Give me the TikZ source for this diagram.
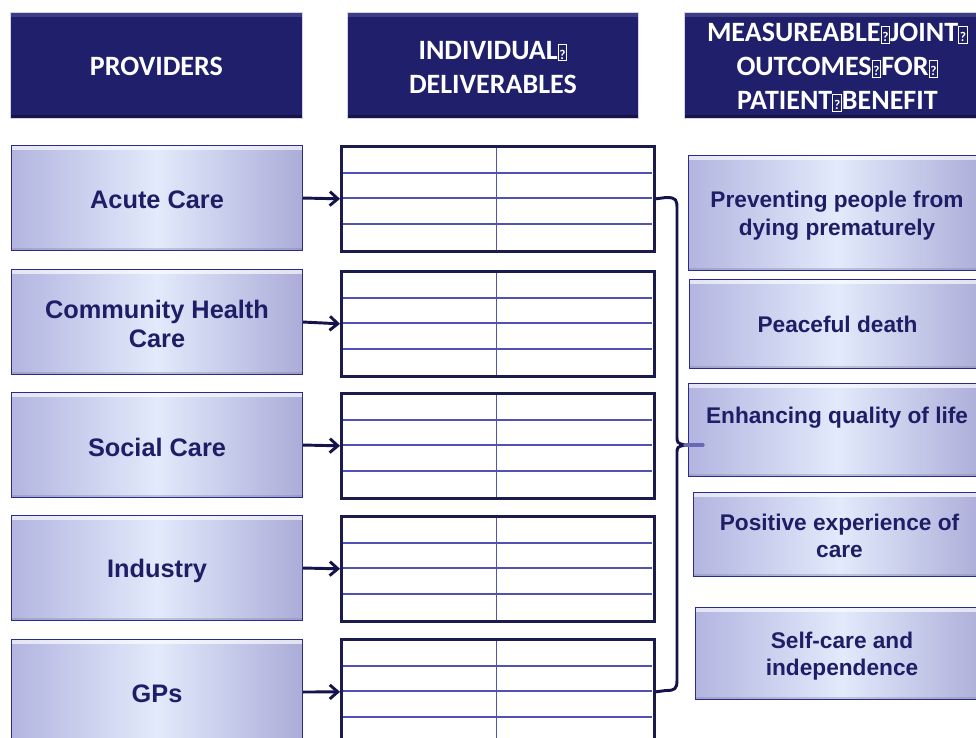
\documentclass[tikz,border=0pt]{standalone}
\usepackage{fontspec}
\setmainfont{Liberation Sans}
\newfontfamily\hdfont{Carlito}
\usetikzlibrary{arrows.meta}
\definecolor{navy}{HTML}{201F6C}
\definecolor{navylt}{HTML}{4B4B8E}
\definecolor{navydk}{HTML}{14134A}
\definecolor{txt}{HTML}{1E1E66}
\definecolor{lav}{HTML}{B3B5E0}
\definecolor{lavr}{HTML}{ABACD8}
\definecolor{pale}{HTML}{E2EAFB}
\definecolor{gridc}{HTML}{5252B2}
\definecolor{tabb}{HTML}{1C1B4E}
\definecolor{edge}{HTML}{2B2B8C}
\definecolor{stubc}{HTML}{6868B4}
\newcommand{\qmark}{{\fboxsep=0.6pt\fboxrule=0.7pt\raisebox{0pt}{\fbox{\rule{0pt}{10.5pt}\fontsize{10}{10}\selectfont\bfseries ?}}}}
\tikzset{
  hdr/.style={anchor=north west, fill=navy, draw=lav!60, line width=0.6pt,
    inner sep=0pt,
    path picture={
      \fill[navylt, opacity=.7] (path picture bounding box.north west) rectangle ([yshift=-3.5pt]path picture bounding box.north east);
      \fill[navydk] (path picture bounding box.south west) rectangle ([yshift=2.5pt]path picture bounding box.south east);
    }},
  htxt/.style={text=white, font=\hdfont\bfseries\fontsize{21}{25.5}\selectfont, align=center, inner sep=0pt},
  pbox/.style={anchor=north west, draw=edge, line width=0.8pt,
    left color=lav, right color=lavr, middle color=pale,
    inner sep=0pt,
    path picture={
      \fill[white, opacity=.65] (path picture bounding box.north west) rectangle ([yshift=-3pt]path picture bounding box.north east);
      \fill[lav!70!black, opacity=.35] (path picture bounding box.south west) rectangle ([yshift=2.2pt]path picture bounding box.south east);
    }},
  prov/.style={pbox, minimum width=291*0.75pt, minimum height=105*0.75pt},
  ptxt/.style={text=txt, align=center, inner sep=0pt, font=\bfseries\fontsize{19}{22}\selectfont},
  otxt/.style={text=txt, align=center, inner sep=0pt, font=\bfseries\fontsize{17}{20.5}\selectfont},
  outc/.style={pbox},
  tabl/.style={anchor=north west, draw=tabb, line width=2pt,
    minimum width=313*0.75pt, minimum height=105*0.75pt, inner sep=0pt},
  gridl/.style={draw=gridc, line width=1.1pt},
  arr/.style={draw=navydk, line width=2.2pt, -{Straight Barb[length=6pt,width=10.5pt,line width=2.2pt]}},
  brace/.style={draw=navydk, line width=2.2pt, line join=round},
  stub/.style={draw=stubc, line width=2.4pt, line cap=round}
}
\begin{document}
\begin{tikzpicture}[x=0.75pt,y=-0.75pt]
\useasboundingbox (0,0) rectangle (976,738);
\clip (0,0) rectangle (976,738);
\fill[white] (0,0) rectangle (976,738);

% headers
\node[hdr, minimum width=292*0.75pt, minimum height=106*0.75pt,
  label={[htxt, yshift=-0.75pt]center:PROVIDERS}] (h1) at (10,12) {};
\node[hdr, minimum width=291*0.75pt, minimum height=106*0.75pt,
  label={[htxt, yshift=-1.5pt]center:{INDIVIDUAL\qmark\\DELIVERABLES}}] (h2) at (347,12) {};
\node[hdr, minimum width=306*0.75pt, minimum height=106*0.75pt,
  label={[htxt, yshift=-1.5pt]center:{MEASUREABLE\qmark JOINT\qmark\\OUTCOMES\qmark FOR\qmark\\PATIENT\qmark BENEFIT}}] (h3) at (684,12) {};

% providers
\node[prov, label={[ptxt, yshift=-1.2pt]center:Acute Care}] (p1) at (11,145) {};
\node[prov, label={[ptxt, yshift=-1.5pt]center:{Community Health\\Care}}] (p2) at (11,269) {};
\node[prov, label={[ptxt, yshift=-1.5pt]center:Social Care}] (p3) at (11,392) {};
\node[prov, label={[ptxt, yshift=-2pt]center:Industry}] (p4) at (11,515) {};
\node[prov, label={[ptxt, yshift=-1pt]center:GPs}] (p5) at (11,639) {};

% tables
\foreach \T in {145,270,392,515,638}{
  \draw[gridl] (341,\T+28) -- (652,\T+28);
  \draw[gridl] (341,\T+53) -- (652,\T+53);
  \draw[gridl] (341,\T+79) -- (652,\T+79);
  \draw[gridl] (496.5,\T) -- (496.5,\T+105);
}
\node[tabl] (t1) at (340,145) {};
\node[tabl] (t2) at (340,270) {};
\node[tabl] (t3) at (340,392) {};
\node[tabl] (t4) at (340,515) {};
\node[tabl] (t5) at (340,638) {};

% arrows
\draw[arr] (p1.east) -- (t1.west);
\draw[arr] (p2.east) -- (t2.west);
\draw[arr] (p3.east) -- (t3.west);
\draw[arr] (p4.east) -- (t4.west);
\draw[arr] (p5.east) -- (t5.west);

% outcomes
\node[outc, minimum width=297*0.75pt, minimum height=115*0.75pt,
  label={[otxt, yshift=-2pt]center:{Preventing people from\\dying prematurely}}] (r1) at (688,155) {};
\node[outc, minimum width=296*0.75pt, minimum height=89*0.75pt,
  label={[otxt]center:Peaceful death}] (r2) at (689,279) {};
\node[outc, minimum width=297*0.75pt, minimum height=93*0.75pt,
  label={[otxt, yshift=9.5pt]center:Enhancing quality of life}] (r3) at (688,383) {};
\node[outc, minimum width=292*0.75pt, minimum height=84*0.75pt,
  label={[otxt, yshift=-1pt]center:{Positive experience of\\care}}] (r4) at (693,492) {};
\node[outc, minimum width=293*0.75pt, minimum height=92*0.75pt,
  label={[otxt, yshift=-2pt]center:{Self-care and\\independence}}] (r5) at (695,607) {};

% bracket
\coordinate (tip) at (685,445);
\coordinate (stubend) at (703,445);
\draw[brace] (t1.east) -- (666,197.5) .. controls (677,197.5) and (677,200) .. (677,210)
  -- (677,436) .. controls (677,443) .. (tip)
  .. controls (677,447) .. (677,454) -- (677,680)
  .. controls (677,689) and (675,690.5) .. (666,690.5) -- (t5.east);
\draw[stub] (tip) -- (stubend);
\end{tikzpicture}
\end{document}
